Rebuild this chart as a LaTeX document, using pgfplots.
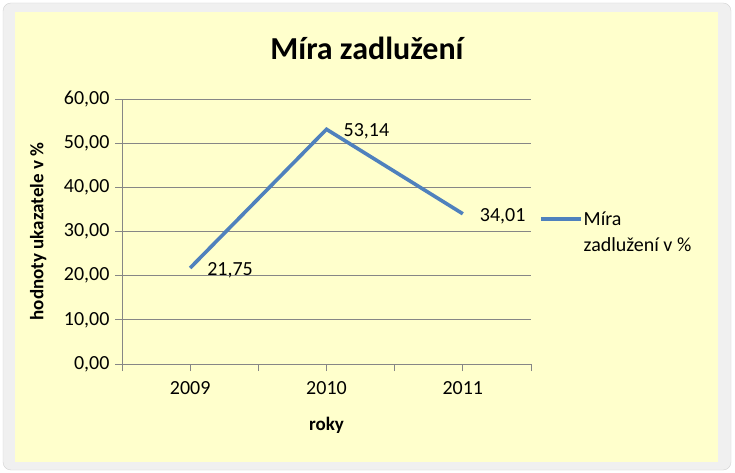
\documentclass[border=0pt]{standalone}
\usepackage{pgfplots}
\pgfplotsset{compat=1.18}
\usepackage{fontspec}
\setmainfont{Carlito}

\definecolor{serie}{HTML}{4F81BD}
\definecolor{pozadi}{HTML}{FFFFCC}
\definecolor{mrizka}{HTML}{868686}

\begin{document}
\begin{tikzpicture}[x=1bp,y=1bp]
% ramecek grafu
\path[use as bounding box] (0,0) rectangle (735,-473);
\fill[white] (0,0) rectangle (735,-473);
\filldraw[fill=gray!12,draw=gray!35,rounded corners=8bp] (3,-3) rectangle (731,-470);
\fill[pozadi] (15,-12) rectangle (718,-462);
\node[font=\fontsize{32bp}{38bp}\selectfont\bfseries] at (367,-48) {Míra zadlužení};

\begin{axis}[
    at={(122bp,-364bp)}, anchor=south west,
    scale only axis,
    width=409bp, height=265bp,
    xmin=0.5, xmax=3.5,
    ymin=0, ymax=60,
    xtick={1,2,3},
    xticklabels={2009,2010,2011},
    minor xtick={0.5,1.5,2.5,3.5},
    ytick={0,10,...,60},
    axis x line*=bottom,
    axis y line*=left,
    axis line style={mrizka,line width=0.8bp,-},
    tick style={mrizka,line width=0.8bp},
    major tick length=7bp,
    minor tick length=7bp,
    tick align=outside,
    ymajorgrids,
    grid style={mrizka,line width=0.8bp},
    tick label style={font=\fontsize{20bp}{24bp}\selectfont},
    xticklabel style={yshift=-7bp},
    yticklabel style={xshift=-2bp,/pgf/number format/.cd,fixed,fixed zerofill,precision=2,use comma,assume math mode=true},
    scaled y ticks=false,
    xlabel={roky},
    ylabel={hodnoty ukazatele v \%},
    label style={font=\fontsize{19bp}{23bp}\selectfont\bfseries},
    xlabel style={at={(axis description cs:0.5,-0.23)},anchor=center},
    ylabel style={at={(axis description cs:-0.205,0.5)},anchor=center,rotate=0},
    legend style={at={(axis description cs:1.012,0.498)},anchor=west,draw=none,fill=none,
        font=\fontsize{20bp}{26bp}\selectfont,nodes={align=left,inner sep=1bp}},
    legend image code/.code={\draw[#1] (0bp,13bp) -- (40bp,13bp);},
    clip=false,
]
\addplot[color=serie,line width=3.6bp,
    nodes near coords={\pgfmathprintnumber[fixed,fixed zerofill,precision=2,use comma,assume math mode=true]{\pgfplotspointmeta}},
    point meta=y,
    every node near coord/.append style={anchor=west,xshift=12bp,yshift=-2bp,black,font=\fontsize{20bp}{24bp}\selectfont}]
    coordinates {(1,21.75) (2,53.14) (3,34.01)};
\addlegendentry{Míra\\zadlužení v \%}
\end{axis}
\end{tikzpicture}
\end{document}
